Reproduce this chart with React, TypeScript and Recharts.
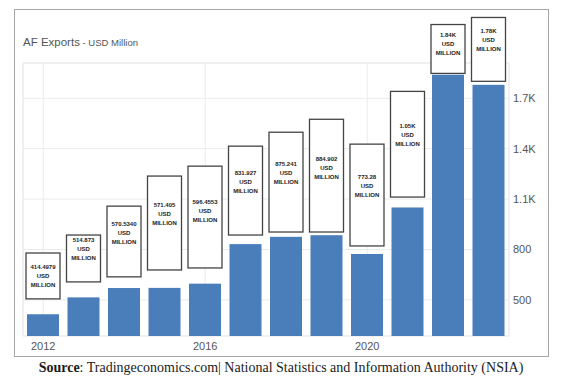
import { BarChart, Bar, XAxis, YAxis, CartesianGrid, ReferenceArea } from "recharts";

const years = ["2012", "2013", "2014", "2015", "2016", "2017", "2018", "2019", "2020", "2021", "2022", "2023"];
const exportsUsdMn = [414.4979, 514.873, 570.534, 571.405, 596.4553, 831.927, 875.241, 884.902, 773.28, 1050, 1840, 1780];
const calloutText = ["414.4979", "514.873", "570.5340", "571.405", "596.4553", "831.927", "875.241", "884.902", "773.28", "1.05K", "1.84K", "1.78K"];
// callout boxes, in USD million (axis units)
const calloutTop = [779, 886, 1058, 1237, 1296, 1415, 1498, 1575, 1427, 1741, 2139, 2181];
const calloutBottom = [506, 607, 637, 678, 690, 886, 904, 904, 821, 1112, 1848, 1801];
const calloutTextAt = [696, 856, 951, 1064, 1082, 1254, 1308, 1338, 1231, 1534, 2074, 2098];

const yTicks = [500, 800, 1100, 1400, 1700];
const yMin = 285;
const yMax = 1910;

const data = years.map((year, i) => ({
  year,
  value: exportsUsdMn[i],
  label: calloutText[i],
  top: calloutTop[i],
  bottom: calloutBottom[i],
  textAt: calloutTextAt[i],
}));

const formatTick = (v: number) => (v >= 1000 ? `${(v / 1000).toFixed(1)}K` : String(v));

const BAR_COLOR = "#4a7ebb";
const GRID = "#ebebeb";

const BarWithCallout = (props: any) => {
  const { x, y, width, height, payload } = props;
  const base = y + height;
  const k = height / (payload.value - yMin);
  const toY = (u: number) => base - (u - yMin) * k;
  const cx = x + width / 2;
  const boxW = 34;
  const top = toY(payload.top);
  const bottom = toY(payload.bottom);
  const ty = toY(payload.textAt);
  const textProps = {
    x: cx,
    textAnchor: "middle" as const,
    dominantBaseline: "central" as const,
    fontFamily: "Liberation Sans, Arial, sans-serif",
    fontWeight: 700,
    fontSize: 6,
    fill: "#222",
  };
  return (
    <g>
      <rect x={x} y={y} width={width} height={height} fill={BAR_COLOR} />
      <rect
        x={cx - boxW / 2}
        y={top}
        width={boxW}
        height={bottom - top}
        fill="#fff"
        stroke="#444"
        strokeWidth={1.3}
      />
      <text {...textProps} y={ty}>{payload.label}</text>
      <text {...textProps} y={ty + 9}>USD</text>
      <text {...textProps} y={ty + 18}>MILLION</text>
    </g>
  );
};

export default function App() {
  return (
    <div
      style={{
        position: "absolute",
        left: 0,
        top: 0,
        width: 562,
        height: 384,
        background: "#fff",
        overflow: "hidden",
      }}
    >
      <div
        style={{
          position: "absolute",
          left: 14,
          top: 9,
          width: 535,
          height: 348,
          border: "1px solid #a6a6a6",
          boxSizing: "border-box",
        }}
      />
      <div
        style={{
          position: "absolute",
          left: 23,
          top: 37,
          fontFamily: "Liberation Sans, Arial, sans-serif",
          fontSize: 11.5,
          lineHeight: 1,
          color: "#555",
          whiteSpace: "nowrap",
        }}
      >
        AF Exports<span style={{ fontSize: 9.5 }}> - USD Million</span>
      </div>
      <div style={{ position: "absolute", left: 0, top: 0 }}>
        <BarChart
          width={562}
          height={384}
          data={data}
          margin={{ top: 63, left: 23, right: 13, bottom: 18 }}
          barSize={32}
        >
          <CartesianGrid stroke={GRID} />
          <ReferenceArea y1={yMin} y2={yMax} fill="none" stroke={GRID} ifOverflow="visible" />
          <XAxis
            dataKey="year"
            interval={3}
            axisLine={false}
            tickLine={false}
            tickSize={0}
            tickMargin={6}
            height={30}
            tick={{ fontSize: 11, fill: "#555", fontFamily: "Liberation Sans, Arial, sans-serif" }}
          />
          <YAxis
            orientation="right"
            domain={[yMin, yMax]}
            ticks={yTicks}
            tickFormatter={formatTick}
            axisLine={false}
            tickLine={false}
            tickSize={0}
            tickMargin={4}
            width={40}
            tick={{ fontSize: 11, fill: "#555", fontFamily: "Liberation Sans, Arial, sans-serif" }}
          />
          <Bar dataKey="value" fill={BAR_COLOR} shape={BarWithCallout} isAnimationActive={false} />
        </BarChart>
      </div>
      <div
        style={{
          position: "absolute",
          left: 0,
          top: 361,
          width: 562,
          textAlign: "center",
          fontFamily: "Liberation Serif, Times New Roman, serif",
          fontSize: 14,
          lineHeight: 1,
          color: "#1a1a1a",
          whiteSpace: "nowrap",
        }}
      >
        <b>Source</b>: Tradingeconomics.com| National Statistics and Information Authority (NSIA)
      </div>
    </div>
  );
}
